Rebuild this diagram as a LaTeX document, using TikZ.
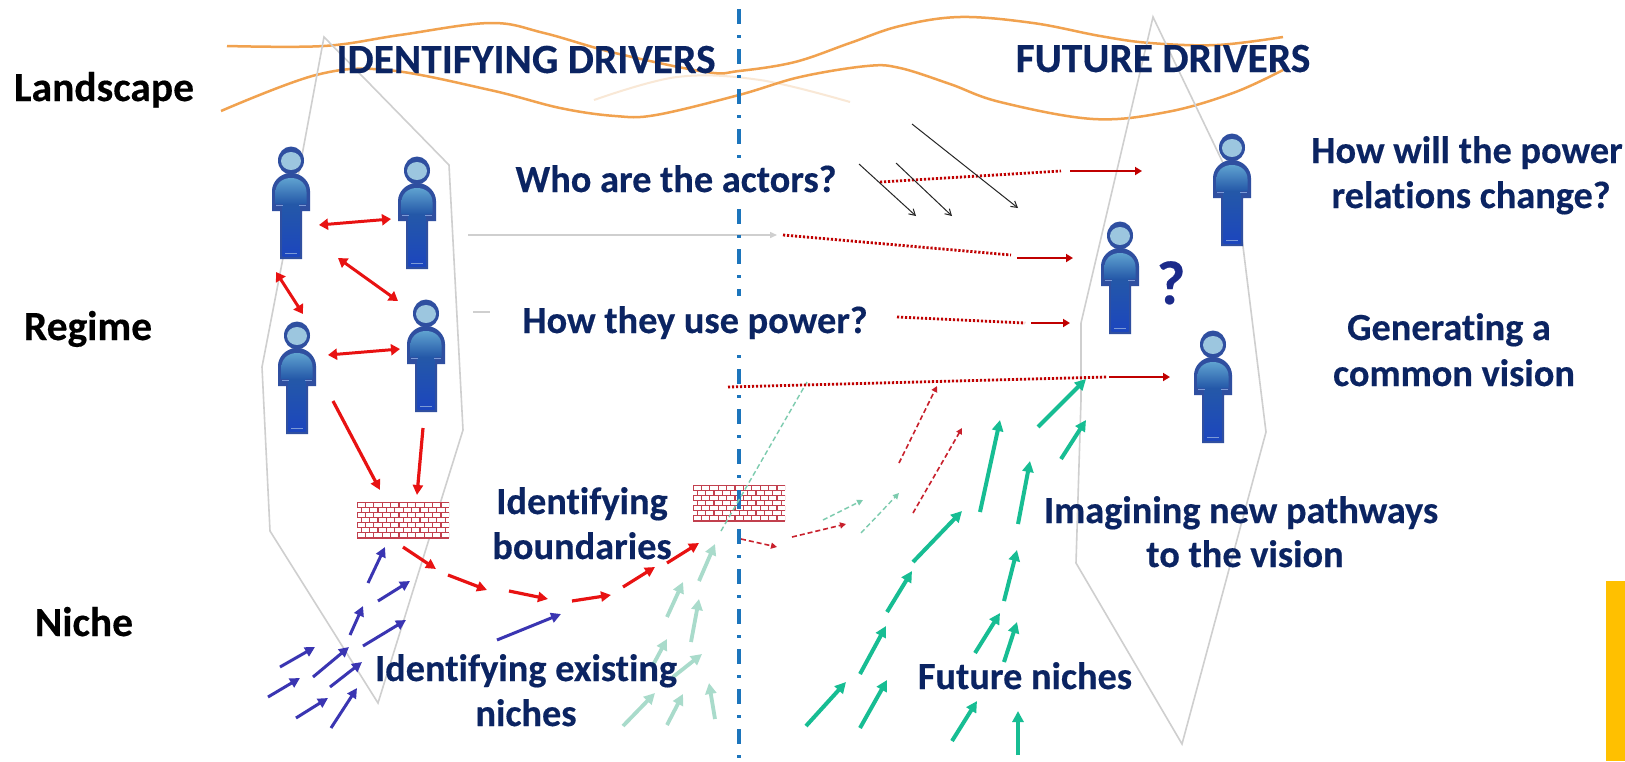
\documentclass[tikz,border=0pt]{standalone}
\usepackage{fontspec}
\setmainfont{Carlito}[Ligatures=CommonOff,BoldFeatures={FakeBold=0.35}]
\usetikzlibrary{arrows.meta}
\definecolor{navy}{HTML}{0B2462}
\definecolor{qmarkblue}{HTML}{1B2A8A}
\definecolor{orangeline}{HTML}{F1A24F}
\definecolor{orangefaint}{HTML}{F9E8D6}
\definecolor{polygray}{HTML}{CFCFCF}
\definecolor{axisblue}{HTML}{1C75BC}
\definecolor{redline}{HTML}{E81212}
\definecolor{darkred}{HTML}{C00000}
\definecolor{dashred}{HTML}{C8202C}
\definecolor{nicheblue}{HTML}{3A35B2}
\definecolor{palegreen}{HTML}{A9DBCB}
\definecolor{futgreen}{HTML}{17BD93}
\definecolor{dashgreen}{HTML}{7CCBAE}
\definecolor{brick}{HTML}{C2404E}
\definecolor{amber}{HTML}{FFC000}
\definecolor{personedge}{HTML}{2F4FA0}
\definecolor{personhead}{HTML}{9CC6DF}
\definecolor{personlite}{HTML}{5FA2D0}
\definecolor{personmid}{HTML}{2458A8}
\definecolor{persontrunk}{HTML}{1C46BE}
\definecolor{persontick}{HTML}{7C9AD6}
\tikzset{
  x=1pt,y=-1pt,
  lbl/.style={font=\fontsize{38.3}{44}\selectfont\bfseries,text=navy,anchor=base,inner sep=0pt},
  headlbl/.style={lbl,font=\fontsize{41.5}{46}\selectfont\bfseries},
  rowlbl/.style={headlbl,text=black},
  polyline/.style={draw=polygray,line width=1.6pt,line join=miter},
  wave/.style={draw=orangeline,line width=2.5pt},
  tipped/.style={-{Triangle[length=10pt,width=10pt]}},
  redarrow/.style={tipped,draw=redline,fill=redline,line width=3.2pt},
  redboth/.style={{Triangle[length=9pt,width=11pt]}-{Triangle[length=9pt,width=11pt]},draw=redline,line width=3pt},
  bluearrow/.style={tipped,draw=nicheblue,line width=3pt},
  palearrow/.style={-{Triangle[length=11pt,width=11pt]},draw=palegreen,line width=3.8pt},
  greenarrow/.style={-{Triangle[length=11pt,width=11pt]},draw=futgreen,line width=4pt},
  dashgreenarrow/.style={-{Triangle[length=6pt,width=6pt]},draw=dashgreen,line width=1.4pt,dash pattern=on 5pt off 3pt},
  dashredarrow/.style={-{Triangle[length=6pt,width=6pt]},draw=dashred,line width=1.6pt,dash pattern=on 5pt off 3pt},
  dotline/.style={draw=darkred,line width=2.8pt,dash pattern=on 2.2pt off 1.8pt},
  solidred/.style={-{Triangle[length=7pt,width=8pt]},draw=darkred,line width=2.6pt},
  blackarrow/.style={-{Straight Barb[length=6pt,width=7pt]},draw=black!85,line width=1pt},
  person/.pic={
    \fill[fill=personedge] (0,13.5) ellipse [x radius=13,y radius=14];
    \fill[fill=personedge] (-19,64) -- (-19,44) .. controls (-19,35) and (-11,26) .. (0,26) .. controls (11,26) and (19,35) .. (19,44) -- (19,64) -- (11,64) -- (11,112) -- (-11,112) -- (-11,64) -- cycle;
    \fill[fill=personhead] (0,14) ellipse [x radius=10,y radius=9];
    \shade[top color=personlite,bottom color=personmid] (-15.5,57) -- (-15.5,45) .. controls (-15.5,37) and (-9,31) .. (0,31) .. controls (9,31) and (15.5,37) .. (15.5,45) -- (15.5,57) -- cycle;
    \shade[top color=personmid,bottom color=persontrunk] (-8.5,57) rectangle (8.5,109);
    \draw[persontick,line width=1pt] (-6,106) -- (6,106);
    \draw[persontick,line width=1pt] (-15,58.5) -- (-8,58.5) (8,58.5) -- (15,58.5);
  },
  brickwall/.pic={
    \fill[white] (0,0) rectangle (92,36);
    \begin{scope}
      \clip (0,0) rectangle (92,36);
      \foreach \r in {0,...,7} {\draw[brick,line width=1.1pt] (0,5.14*\r) -- (92,5.14*\r);}
      \foreach \r in {0,2,4,6} {\foreach \c in {0,...,11} {\draw[brick,line width=1.1pt] (8.4*\c,5.14*\r) -- (8.4*\c,5.14*\r+5.14);}}
      \foreach \r in {1,3,5} {\foreach \c in {0,...,11} {\draw[brick,line width=1.1pt] (8.4*\c+4.2,5.14*\r) -- (8.4*\c+4.2,5.14*\r+5.14);}}
    \end{scope}
  },
}
\begin{document}
\begin{tikzpicture}
\useasboundingbox (0,0) rectangle (1625,761);
\fill[white] (0,0) rectangle (1625,761);
% yellow block
\fill[amber] (1606,581) rectangle (1625,761);
% faint and orange waves
\draw[draw=orangefaint,line width=2pt] plot[smooth,tension=.6] coordinates {(594,100) (677,77) (760,80) (850,102)};
\draw[wave] plot[smooth,tension=.6] coordinates {(227,46) (324,46) (400,35) (490,23) (544,33) (615,53) (706,72) (739,71) (795,62) (850,43) (900,26) (960,17) (1033,23) (1100,36) (1150,43) (1217,45) (1283,37)};
\draw[wave] plot[smooth,tension=.6] coordinates {(221,111) (316,75) (387,70) (490,90) (560,108) (615,116) (656,115) (739,95) (800,77) (867,66) (900,68) (950,84) (1000,102) (1093,119) (1167,112) (1233,93) (1283,70)};
% gray outlines
\draw[polyline] (324,37) -- (303,150) -- (283,258) -- (262,367) -- (270,531) -- (378,703) -- (463,430) -- (449,165) -- cycle;
\draw[polyline] (1153,17) -- (1081,323) -- (1081,400) -- (1076,563) -- (1182,744) -- (1266,432) -- (1236,190) -- cycle;
% gray horizontal
\coordinate (gs) at (468,235); \coordinate (ge) at (777,235);
\draw[-{Triangle[length=7pt,width=6pt]},draw=polygray,line width=1.4pt] (gs) -- (ge);
\coordinate (ts) at (473,312); \coordinate (te) at (490,312);
\draw[draw=polygray,line width=1.4pt] (ts) -- (te);
% axis
\coordinate (axt) at (739,9); \coordinate (axb) at (739,761);
\draw[draw=axisblue,line width=3.6pt,dash pattern=on 15pt off 11pt on 3pt off 11pt] (axt) -- (axb);
\fill[white] (730,160) rectangle (748,205);
\fill[white] (730,296) rectangle (748,352);
% walls
\pic (wallA) at (357,502) {brickwall};
\pic (wallB) at (693,485) {brickwall};
\coordinate (axs) at (739,490); \coordinate (axe) at (739,509);
\draw[draw=axisblue,line width=3.2pt] (axs) -- (axe);
% persons
\pic (p1) at (291,147) {person};
\pic (p2) at (417,157) {person};
\pic (p3) at (297,322) {person};
\pic (p4) at (426,300) {person};
\pic (p5) at (1232,134) {person};
\pic (p6) at (1213,331) {person};
\pic (p7) at (1120,222) {person};
% red double arrows
\foreach \a/\b/\c/\d in {319/225/391/219,276/272/303/314,338/258/398/301,328/355/400/349}
  {\coordinate (s) at (\a,\b); \coordinate (e) at (\c,\d); \draw[redboth] (s) -- (e);}
% red single arrows
\foreach \a/\b/\c/\d in {333/401/380/490,423/428/417/495,403/547/436/569,448/575/487/590,509/591/548/599,572/601/611/595,623/587/655/567,667/563/699/543}
  {\coordinate (s) at (\a,\b); \coordinate (e) at (\c,\d); \draw[redarrow] (s) -- (e);}
% blue arrows
\foreach \a/\b/\c/\d in {368/583/385/547,378/601/410/581,350/635/363/606,363/646/406/620,497/640/561/614,280/667/315/647,313/677/349/647,268/697/300/678,330/687/362/662,296/718/328/698,331/728/357/688}
  {\coordinate (s) at (\a,\b); \coordinate (e) at (\c,\d); \draw[bluearrow] (s) -- (e);}
% pale green arrows
\foreach \a/\b/\c/\d in {699/581/715/544,667/617/683/582,691/642/699/599,653/665/667/639,673/677/702/654,623/726/655/693,667/725/683/694,715/719/709/683}
  {\coordinate (s) at (\a,\b); \coordinate (e) at (\c,\d); \draw[palearrow] (s) -- (e);}
% green arrows
\foreach \a/\b/\c/\d in {806/726/846/682,860/728/887/680,860/674/886/626,887/612/912/571,913/562/962/511,980/512/1000/420,1018/524/1030/461,1038/427/1086/379,1061/459/1086/420,1004/601/1017/550,975/653/1000/613,1004/662/1017/622,952/741/977/701,1018/755/1018/711}
  {\coordinate (s) at (\a,\b); \coordinate (e) at (\c,\d); \draw[greenarrow] (s) -- (e);}
% thin dashed
\foreach \a/\b/\c/\d in {823/520/863/500,861/533/899/493}
  {\coordinate (s) at (\a,\b); \coordinate (e) at (\c,\d); \draw[dashgreenarrow] (s) -- (e);}
\coordinate (gds) at (721,531); \coordinate (gde) at (807,382);
\draw[draw=dashgreen,line width=1.4pt,dash pattern=on 5pt off 3pt] (gds) -- (gde);
\foreach \a/\b/\c/\d in {741/539/777/547,792/537/846/524,913/513/962/428,899/463/937/386}
  {\coordinate (s) at (\a,\b); \coordinate (e) at (\c,\d); \draw[dashredarrow] (s) -- (e);}
% dotted dark red and their solid arrows
\foreach \a/\b/\c/\d in {728/387/1107/377,880/182/1061/171,783/235/1011/255,897/317/1025/323}
  {\coordinate (s) at (\a,\b); \coordinate (e) at (\c,\d); \draw[dotline] (s) -- (e);}
\foreach \a/\b/\c/\d in {1109/377/1170/377,1070/171/1142/171,1017/258/1073/258,1031/323/1070/323}
  {\coordinate (s) at (\a,\b); \coordinate (e) at (\c,\d); \draw[solidred] (s) -- (e);}
% black thin arrows
\foreach \a/\b/\c/\d in {912/124/1018/208,859/164/916/216,896/163/952/216}
  {\coordinate (s) at (\a,\b); \coordinate (e) at (\c,\d); \draw[blackarrow] (s) -- (e);}
% texts
\node[rowlbl] (landscape) at (104,101) {Landscape};
\node[rowlbl] (regime) at (88,340) {Regime};
\node[rowlbl] (niche) at (84,636) {Niche};
\node[headlbl] (idrivers) at (526,73) {IDENTIFYING DRIVERS};
\node[headlbl] (fdrivers) at (1163,72) {FUTURE DRIVERS};
\node[lbl] (actors) at (676,192) {Who are the actors?};
\node[lbl] (usepower) at (695,333) {How they use power?};
\node[lbl,text=qmarkblue,font=\fontsize{62}{62}\selectfont\bfseries] (qmark) at (1171,304) {?};
\node[lbl] (willpower) at (1467,163) {How will the power};
\node[lbl] (relations) at (1471,208) {relations change?};
\node[lbl] (generating) at (1449,340) {Generating a};
\node[lbl] (common) at (1454,386) {common vision};
\node[lbl] (imagining) at (1241,523) {Imagining new pathways};
\node[lbl] (tovision) at (1245,567) {to the vision};
\node[lbl] (identA) at (582,514) {Identifying};
\node[lbl] (bound) at (582,559) {boundaries};
\node[lbl] (identB) at (526,681) {Identifying existing};
\node[lbl] (exniches) at (526,726) {niches};
\node[lbl] (future) at (1025,689) {Future niches};
\end{tikzpicture}
\end{document}
